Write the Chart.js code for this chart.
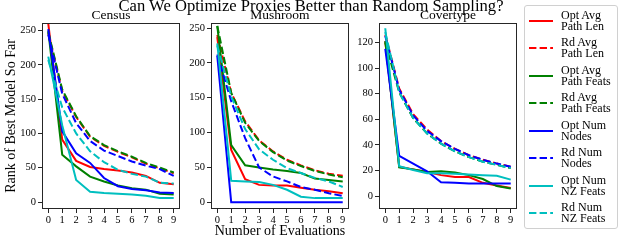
<!DOCTYPE html>
<html><head><meta charset="utf-8">
<script src="https://cdn.jsdelivr.net/npm/chart.js@4.4.0/dist/chart.umd.min.js"></script>
<style>
body{margin:0;background:#fff;}
#fig{position:relative;width:623px;height:245px;overflow:hidden;font-family:'Liberation Serif',serif;color:#000;background:#fff;}
canvas{position:absolute;top:0;}
.t{position:absolute;white-space:nowrap;line-height:1;}
#ylab{position:absolute;left:-79px;top:109px;width:180px;height:14px;text-align:center;font-size:14px;line-height:14px;white-space:nowrap;transform:rotate(-90deg);transform-origin:90px 7px;}
#legend{position:absolute;left:524px;top:5px;width:92px;height:222px;border:1px solid #d0d0d0;border-radius:3px;background:#fff;}
.entry{position:absolute;left:0;width:92px;height:24px;}
.entry svg{position:absolute;left:3px;top:0;}
.entry .lbl{position:absolute;left:36px;top:0;font-size:12px;line-height:11px;white-space:nowrap;}
</style></head><body>
<div id="fig">
  <canvas id="c0" width="182" height="245" style="left:0px"></canvas>
  <canvas id="c1" width="182" height="245" style="left:169px"></canvas>
  <canvas id="c2" width="182" height="245" style="left:337px"></canvas>
  <div class="t" id="suptitle" style="font-size:16.6px;top:-2px;left:311px;transform:translateX(-50%);">Can We Optimize Proxies Better than Random Sampling?</div>
  <div class="t" style="font-size:13.5px;top:8px;left:111px;transform:translateX(-50%);">Census</div>
  <div class="t" style="font-size:13.5px;top:8px;left:280px;transform:translateX(-50%);">Mushroom</div>
  <div class="t" style="font-size:13.5px;top:8px;left:448px;transform:translateX(-50%);">Covertype</div>
  <div id="ylab">Rank of Best Model So Far</div>
  <div class="t" style="font-size:14px;left:280px;top:224px;transform:translateX(-50%);">Number of Evaluations</div>
  <div id="legend"></div>
</div>
<script>
// ---------- data ----------
const xValues = [0,1,2,3,4,5,6,7,8,9];
const xTicks = [0,1,2,3,4,5,6,7,8,9];

const seriesLabels = [
  ['Opt Avg','Path Len'], ['Rd Avg','Path Len'],
  ['Opt Avg','Path Feats'], ['Rd Avg','Path Feats'],
  ['Opt Num','Nodes'], ['Rd Num','Nodes'],
  ['Opt Num','NZ Feats'], ['Rd Num','NZ Feats']
];
const seriesColors = ['#ff0000','#ff0000','#008000','#008000','#0000ff','#0000ff','#00bfbf','#00bfbf'];
const seriesDashed = [false,true,false,true,false,true,false,true];

// Census
const censusOptPathLen   = [260, 91, 60, 51, 48, 46, 43, 38, 28, 26];
const censusRdPathLen    = [246, 162, 124, 95, 82, 73, 65, 56, 49, 42];
const censusOptPathFeats = [250, 69, 52, 37, 30, 24, 20, 18, 12, 11];
const censusRdPathFeats  = [248, 164, 125, 96, 83, 74, 66, 57, 50, 43];
const censusOptNodes     = [252, 103, 71, 57, 35, 23, 19, 17, 14, 13];
const censusRdNodes      = [244, 158, 115, 89, 75, 67, 59, 53, 48, 38];
const censusOptNZ        = [212, 112, 32, 15, 13, 12, 11, 9, 6, 6];
const censusRdNZ         = [207, 138, 100, 74, 58, 47, 41, 37, 28, 27];
const censusYTicks = [0,50,100,150,200,250];

// Mushroom
const mushroomOptPathLen   = [237, 75, 33, 25, 24, 24, 21, 18, 16, 13];
const mushroomRdPathLen    = [240, 157, 116, 89, 73, 61, 53, 46, 41, 38];
const mushroomOptPathFeats = [253, 82, 53, 50, 47, 45, 42, 34, 32, 30];
const mushroomRdPathFeats  = [253, 157, 114, 88, 72, 60, 52, 45, 40, 36];
const mushroomOptNodes     = [210, 0, 0, 0, 0, 0, 0, 0, 0, 0];
const mushroomRdNodes      = [212, 145, 92, 50, 37, 30, 22, 18, 13, 9];
const mushroomOptNZ        = [228, 31, 30, 29, 25, 18, 8, 6, 6, 6];
const mushroomRdNZ         = [225, 152, 105, 76, 61, 49, 42, 35, 30, 22];
const mushroomYTicks = [0,50,100,150,200,250];

// Covertype
const covertypeOptPathLen   = [121, 23, 21, 19, 16.5, 15, 15, 10.5, 8.5, 6.5];
const covertypeRdPathLen    = [126, 84, 64, 52, 43, 37, 32, 28.5, 25.5, 23];
const covertypeOptPathFeats = [121, 22.5, 21, 19, 19.5, 18.5, 16.5, 13.5, 8, 6];
const covertypeRdPathFeats  = [120, 81, 61, 49, 41, 35, 30.5, 27, 24.5, 22];
const covertypeOptNodes     = [115, 31.5, 25.5, 19.5, 11, 10.5, 10, 10, 10, 10];
const covertypeRdNodes      = [125, 83, 63, 51, 43, 37, 32, 28.5, 25.5, 23];
const covertypeOptNZ        = [131, 23.5, 20.5, 18, 18, 17.5, 17, 16.5, 16, 13];
const covertypeRdNZ         = [128, 81, 61, 49, 41, 35, 30.5, 27, 24.5, 22];
const covertypeYTicks = [0,20,40,60,80,100,120];

// ---------- chart building ----------
const FONT = "'Liberation Serif', serif";
const AXIS = '#262626';

const boxPlugin = {
  id: 'box',
  afterDatasetsDraw(chart) {
    const {ctx, chartArea: a} = chart;
    ctx.save();
    ctx.strokeStyle = AXIS;
    ctx.lineWidth = 1;
    ctx.strokeRect(Math.round(a.left) + 0.5, Math.round(a.top) + 0.5, Math.round(a.width) - 1, Math.round(a.height) - 1);
    ctx.restore();
  }
};

function makeChart(id, seriesList, yMin, yMax, yTicks) {
  const datasets = seriesList.map((vals, i) => ({
    label: seriesLabels[i].join(' '),
    data: xValues.map((x, j) => ({x: x, y: vals[j]})),
    borderColor: seriesColors[i],
    backgroundColor: seriesColors[i],
    borderWidth: 2,
    borderDash: seriesDashed[i] ? [7.4, 3.2] : [],
    pointRadius: 0,
    tension: 0,
    fill: false,
    order: seriesList.length - i
  }));
  return new Chart(document.getElementById(id), {
    type: 'line',
    data: {datasets},
    plugins: [boxPlugin],
    options: {
      responsive: false,
      animation: false,
      devicePixelRatio: 1,
      layout: {padding: {top: 23, right: 2, left: 0, bottom: 0}},
      plugins: {legend: {display: false}, title: {display: false}, tooltip: {enabled: false}},
      scales: {
        x: {
          type: 'linear', min: -0.45, max: 9.45,
          afterBuildTicks: s => { s.ticks = xTicks.map(v => ({value: v})); },
          afterFit: s => { s.height = 36; },
          grid: {display: true, drawOnChartArea: false, drawTicks: true, tickLength: 4, tickColor: AXIS, tickWidth: 1},
          border: {display: false},
          ticks: {font: {family: FONT, size: 10.5}, color: '#000', padding: 1, maxRotation: 0, autoSkip: false}
        },
        y: {
          type: 'linear', min: yMin, max: yMax,
          afterBuildTicks: s => { s.ticks = yTicks.map(v => ({value: v})); },
          afterFit: s => { s.width = 42; },
          grid: {display: true, drawOnChartArea: false, drawTicks: true, tickLength: 4, tickColor: AXIS, tickWidth: 1},
          border: {display: false},
          ticks: {font: {family: FONT, size: 10.5}, color: '#000', padding: 2, autoSkip: false}
        }
      }
    }
  });
}

makeChart('c0', [censusOptPathLen, censusRdPathLen, censusOptPathFeats, censusRdPathFeats,
                 censusOptNodes, censusRdNodes, censusOptNZ, censusRdNZ], -10.2, 261, censusYTicks);
makeChart('c1', [mushroomOptPathLen, mushroomRdPathLen, mushroomOptPathFeats, mushroomRdPathFeats,
                 mushroomOptNodes, mushroomRdNodes, mushroomOptNZ, mushroomRdNZ], -9.6, 257.2, mushroomYTicks);
makeChart('c2', [covertypeOptPathLen, covertypeRdPathLen, covertypeOptPathFeats, covertypeRdPathFeats,
                 covertypeOptNodes, covertypeRdNodes, covertypeOptNZ, covertypeRdNZ], -9.9, 135.1, covertypeYTicks);

// ---------- legend ----------
const legend = document.getElementById('legend');
seriesLabels.forEach((lines, i) => {
  const e = document.createElement('div');
  e.className = 'entry';
  const lineY = 15 + i * 27.45; // relative to legend box
  e.style.top = Math.round(lineY - 12) + 'px';
  const dash = seriesDashed[i] ? 'stroke-dasharray="7.4 3.2"' : '';
  e.innerHTML = `<svg width="26" height="24"><line x1="1" y1="12" x2="25" y2="12" stroke="${seriesColors[i]}" stroke-width="2" ${dash}/></svg>` +
                `<div class="lbl" style="top:1px">${lines[0]}<br>${lines[1]}</div>`;
  legend.appendChild(e);
});
</script>
</body></html>
